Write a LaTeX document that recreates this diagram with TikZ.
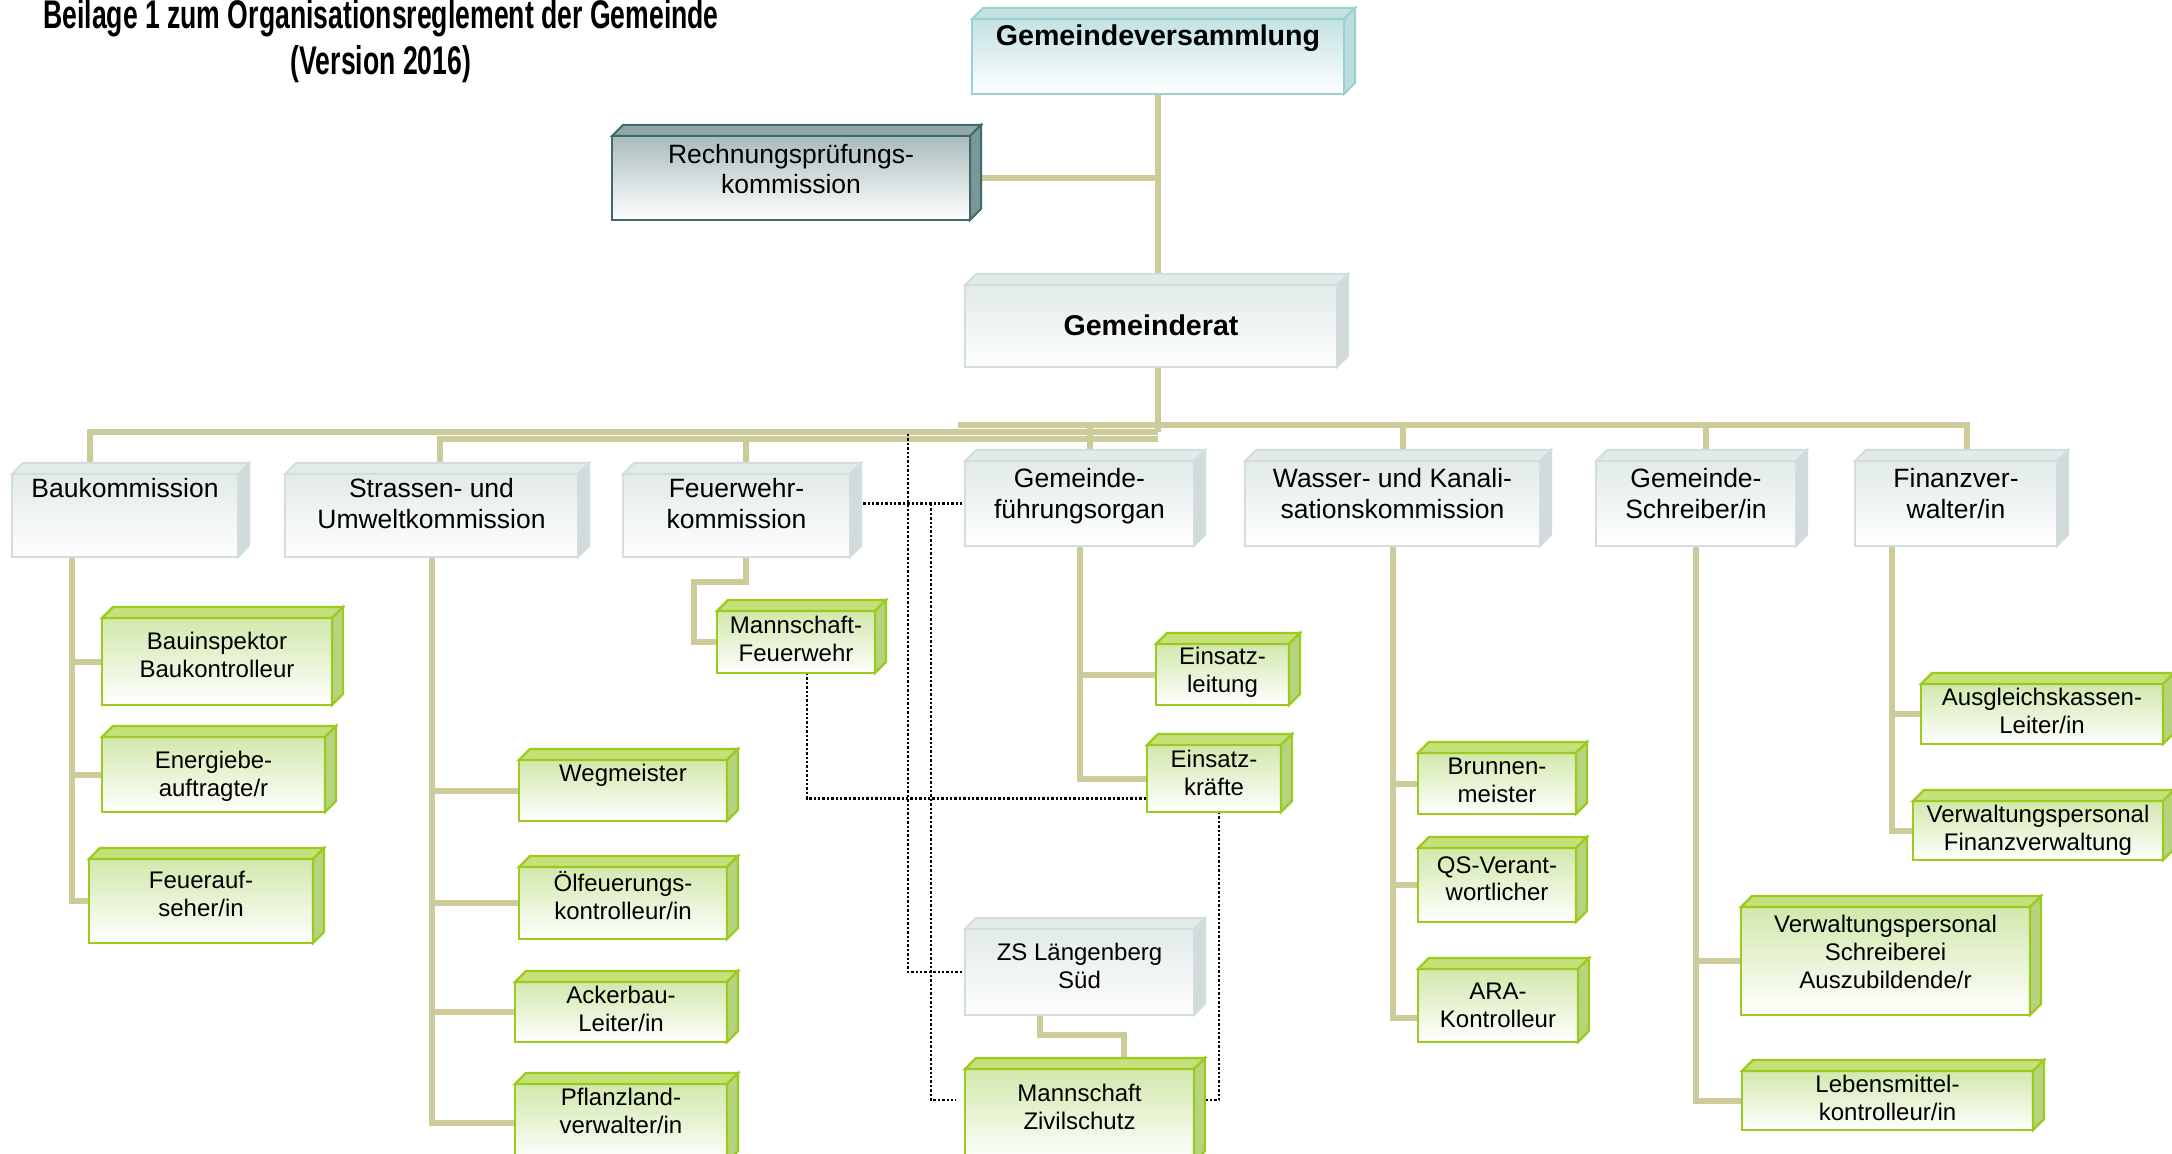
\documentclass[tikz,border=0pt]{standalone}
\usepackage{fontspec}
\setmainfont{Liberation Sans}
\usepackage{graphicx}
\usetikzlibrary{backgrounds}

\definecolor{tieline}{HTML}{CDCB99}
\definecolor{plainboxFill}{HTML}{E2EAEA}
\definecolor{plainboxLine}{HTML}{D3DDDD}
\definecolor{plainboxTop}{HTML}{E3EAEA}
\definecolor{plainboxSide}{HTML}{D2DBDB}
\definecolor{greenboxFill}{HTML}{D2E8AC}
\definecolor{greenboxLine}{HTML}{9BCB1E}
\definecolor{greenboxTop}{HTML}{C6E07A}
\definecolor{greenboxSide}{HTML}{B6D37E}
\definecolor{tealboxFill}{HTML}{C3E2E2}
\definecolor{tealboxLine}{HTML}{9CCFCF}
\definecolor{tealboxTop}{HTML}{C3E1E1}
\definecolor{tealboxSide}{HTML}{BCDCDC}
\definecolor{slateboxFill}{HTML}{A9BBBB}
\definecolor{slateboxLine}{HTML}{3E6A6A}
\definecolor{slateboxTop}{HTML}{92A8A8}
\definecolor{slateboxSide}{HTML}{7C9797}

\tikzstyle{plainbox} = [rectangle, draw=plainboxLine, line width=1pt, top color=plainboxFill, bottom color=white, inner sep=0pt, outer sep=0pt]
\tikzstyle{plainbox top} = [fill=plainboxTop, draw=plainboxLine, line width=1pt]
\tikzstyle{plainbox side} = [fill=plainboxSide, draw=plainboxLine, line width=1pt]
\tikzstyle{plainbox text} = [align=center, inner sep=0pt, font=\fontsize{13.25}{15.2}\selectfont]
\tikzstyle{greenbox} = [rectangle, draw=greenboxLine, line width=1.2pt, top color=greenboxFill, bottom color=white, inner sep=0pt, outer sep=0pt]
\tikzstyle{greenbox top} = [fill=greenboxTop, draw=greenboxLine, line width=1.2pt]
\tikzstyle{greenbox side} = [fill=greenboxSide, draw=greenboxLine, line width=1.2pt]
\tikzstyle{greenbox text} = [align=center, inner sep=0pt, font=\fontsize{12}{13.9}\selectfont]
\tikzstyle{tealbox} = [rectangle, draw=tealboxLine, line width=1pt, top color=tealboxFill, bottom color=white, inner sep=0pt, outer sep=0pt]
\tikzstyle{tealbox top} = [fill=tealboxTop, draw=tealboxLine, line width=1pt]
\tikzstyle{tealbox side} = [fill=tealboxSide, draw=tealboxLine, line width=1pt]
\tikzstyle{tealbox text} = [align=center, inner sep=0pt, font=\fontsize{14.3}{17}\selectfont\bfseries]
\tikzstyle{slatebox} = [rectangle, draw=slateboxLine, line width=1pt, top color=slateboxFill, bottom color=white, inner sep=0pt, outer sep=0pt]
\tikzstyle{slatebox top} = [fill=slateboxTop, draw=slateboxLine, line width=1pt]
\tikzstyle{slatebox side} = [fill=slateboxSide, draw=slateboxLine, line width=1pt]
\tikzstyle{slatebox text} = [align=center, inner sep=0pt, font=\fontsize{13.25}{15.2}\selectfont]
\tikzstyle{tie} = [line width=3pt, draw=tieline]
\tikzstyle{dotline} = [line width=1.2pt, dash pattern=on 1.2pt off 1pt, draw=black]
\tikzstyle{title} = [align=center, inner sep=0pt, font=\fontsize{20}{23}\selectfont\bfseries]

% 3d box: [text opts]{kind}{name}{x1}{y1}{x2}{y2}{text offset}{text}
\newcommand{\orgbox}[9][]{%
  \node[#2, anchor=north west, minimum width={(#6-#4)*0.5pt}, minimum height={(#7-#5)*0.5pt}] (#3) at (#4,#5) {};
  \filldraw[#2 top] (#3.north west) -- ++(11,-11) -- ([shift={(11,-11)}]#3.north east) -- (#3.north east) -- cycle;
  \filldraw[#2 side] (#3.north east) -- ++(11,-11) -- ([shift={(11,-11)}]#3.south east) -- (#3.south east) -- cycle;
  \node[#2 text, anchor=north, #1] (#3txt) at ([yshift=-#8*0.5pt]#3.north) {#9};
}

\begin{document}
\begin{tikzpicture}[x=0.5pt, y=-0.5pt]
  \useasboundingbox (0,0) rectangle (2172,1154);

  \node[title] (title) at (381,41) {\scalebox{0.665}[1]{Beilage 1 zum Organisationsreglement der Gemeinde}\\\scalebox{0.665}[1]{(Version 2016)}};

  % top
  \orgbox{tealbox}{gemv}{972}{19}{1344}{94}{5}{Gemeindeversammlung}
  \orgbox{slatebox}{rpk}{612}{136}{970}{220}{8}{Rechnungsprüfungs-\\kommission}
  \orgbox[font=\fontsize{14.3}{17}\selectfont\bfseries]{plainbox}{grat}{965}{285}{1337}{367}{29}{Gemeinderat}

  % first row
  \orgbox{plainbox}{bau}{12}{474}{238}{557}{4}{Baukommission}
  \orgbox{plainbox}{str}{285}{474}{578}{557}{4}{Strassen- und\\Umweltkommission}
  \orgbox{plainbox}{fwk}{623}{474}{850}{557}{4}{Feuerwehr-\\kommission}
  \orgbox{plainbox}{gfo}{965}{461}{1194}{546}{7}{Gemeinde-\\führungsorgan}
  \orgbox{plainbox}{wak}{1245}{461}{1540}{546}{7}{Wasser- und Kanali-\\sationskommission}
  \orgbox{plainbox}{gsb}{1596}{461}{1796}{546}{7}{Gemeinde-\\Schreiber/in}
  \orgbox{plainbox}{fin}{1855}{461}{2057}{546}{7}{Finanzver-\\walter/in}

  % Baukommission
  \orgbox{greenbox}{bi}{102}{618}{332}{705}{13.5}{Bauinspektor\\Baukontrolleur}
  \orgbox{greenbox}{ebe}{102}{737}{325}{812}{13.5}{Energiebe-\\auftragte/r}
  \orgbox{greenbox}{fas}{89}{859}{313}{943}{12}{Feuerauf-\\seher/in}

  % Strassen
  \orgbox{greenbox}{weg}{519}{760}{727}{821}{4}{Wegmeister}
  \orgbox{greenbox}{oel}{519}{867}{727}{939}{4}{Ölfeuerungs-\\kontrolleur/in}
  \orgbox{greenbox}{ack}{515}{982}{727}{1042}{4}{Ackerbau-\\Leiter/in}
  \orgbox{greenbox}{pfl}{515}{1084}{727}{1162}{4}{Pflanzland-\\verwalter/in}

  % Feuerwehr, Fuehrungsorgan, Zivilschutz
  \orgbox{greenbox}{mfw}{717}{611}{875}{673}{5}{Mannschaft-\\Feuerwehr}
  \orgbox{greenbox}{eil}{1156}{644}{1289}{705}{2.5}{Einsatz-\\leitung}
  \orgbox{greenbox}{eik}{1147}{745}{1281}{812}{5}{Einsatz-\\kräfte}
  \orgbox[font=\fontsize{12}{13.9}\selectfont]{plainbox}{zsl}{965}{929}{1194}{1015}{14}{ZS Längenberg\\Süd}
  \orgbox{greenbox}{mzs}{965}{1069}{1194}{1162}{15}{Mannschaft\\Zivilschutz}

  % Wasser
  \orgbox{greenbox}{bru}{1418}{753}{1576}{814}{5}{Brunnen-\\meister}
  \orgbox{greenbox}{qsv}{1418}{848}{1576}{922}{8}{QS-Verant-\\wortlicher}
  \orgbox{greenbox}{ara}{1418}{969}{1578}{1042}{13.5}{ARA-\\Kontrolleur}

  % Schreiber, Finanzen
  \orgbox{greenbox}{vps}{1741}{907}{2030}{1015}{8}{Verwaltungspersonal\\Schreiberei\\Auszubildende/r}
  \orgbox{greenbox}{lmk}{1742}{1071}{2033}{1130}{4}{Lebensmittel-\\kontrolleur/in}
  \orgbox{greenbox}{agk}{1921}{684}{2163}{744}{4}{Ausgleichskassen-\\Leiter/in}
  \orgbox{greenbox}{vpf}{1913}{801}{2163}{860}{4}{Verwaltungspersonal\\Finanzverwaltung}

  \coordinate (busL) at (90,432);
  \coordinate (busM) at (440,439);
  \coordinate (busR) at (958,425);
  \coordinate (zsTap) at (908,434);
  \coordinate (gfoTap) at (931,504);
  \coordinate (mzsL) at (956,1100);
  \coordinate (mzsR) at (1205,1100);
  \coordinate (bauV) at ([xshift=-26.5pt]bau.south);
  \coordinate (finV) at ([xshift=-32pt]fin.south);

  \begin{scope}[on background layer]
    % trunk and bus
    \draw[tie] (gemv.south) -- (gemv.south |- busL);
    \draw[tie] (rpk.east) -- (rpk.east -| gemv.south);
    \draw[tie] (bau.north -| busL) -- (busL) -- (busL -| gemv.south);
    \draw[tie] (busM |- str.north) -- (busM) -- (busM -| gemv.south);
    \draw[tie] ([xshift=4.5pt]fwk.north) -- ([xshift=4.5pt]fwk.north |- busM);
    \draw[tie] (busR) -| ([xshift=5.5pt]fin.north);
    \foreach \n in {gfo, wak, gsb}
      \draw[tie] ([xshift=5pt]\n.north) -- ([xshift=5pt]\n.north |- busR);

    % children
    \draw[tie] (bauV) |- (fas.west);
    \foreach \n in {bi, ebe}
      \draw[tie] (bauV |- \n.west) -- (\n.west);
    \draw[tie] (str.south) |- (pfl.west);
    \foreach \n in {weg, oel, ack}
      \draw[tie] (str.south |- \n.west) -- (\n.west);
    \draw[tie] ([xshift=4.5pt]fwk.south) -- ++(0,25) -| ([xshift=-11.5pt]mfw.west) -- (mfw.west);
    \draw[tie] (gfo.south) |- (eik.west);
    \draw[tie] (gfo.south |- eil.west) -- (eil.west);
    \draw[tie] ([xshift=-20pt]zsl.south) -- ++(0,20) -| ([xshift=22pt]mzs.north);
    \draw[tie] (wak.south) |- ([yshift=-6pt]ara.west);
    \foreach \n in {bru, qsv}
      \draw[tie] (wak.south |- \n.west) -- (\n.west);
    \draw[tie] (gsb.south) |- (lmk.west);
    \draw[tie] (gsb.south |- vps.west) -- (vps.west);
    \draw[tie] (finV) |- (vpf.west);
    \draw[tie] (finV |- agk.west) -- (agk.west);

    % dotted links
    \draw[dotline] (fwk.east |- gfo.west) -- (gfo.west);
    \draw[dotline] (zsTap) |- (zsl.west);
    \draw[dotline] (gfoTap) |- (mzsL);
    \draw[dotline] ([xshift=5.5pt]mfw.south) |- ([yshift=-10pt]eik.west);
    \draw[dotline] ([xshift=2.5pt]eik.south) |- (mzsR);
  \end{scope}
\end{tikzpicture}
\end{document}
